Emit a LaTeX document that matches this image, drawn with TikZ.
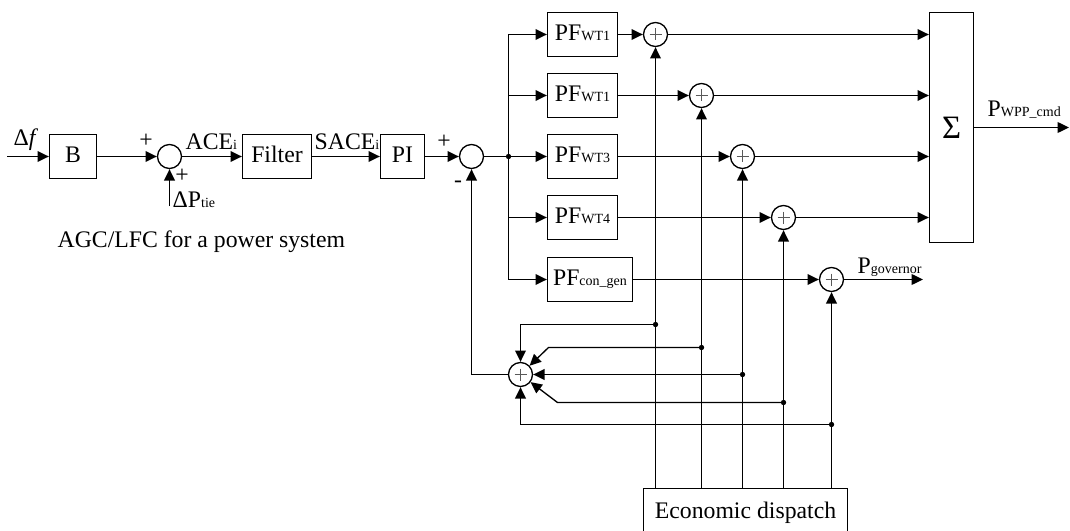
\documentclass[tikz,border=0pt]{standalone}
\usepackage{fontspec}
\setmainfont{Liberation Serif}
\usetikzlibrary{arrows.meta}
% small upright subscript set on the same baseline
\newcommand{\sbs}[1]{{\fontsize{10.5}{12}\selectfont #1}}
\begin{document}
\begin{tikzpicture}[x=0.75pt, y=-0.75pt, line width=1pt,
  >={Triangle[length=8.5pt,width=8pt]},
  font=\fontsize{17.8}{20}\selectfont,
  blk/.style={draw, inner sep=0pt, minimum height=33pt, text height=11.7pt, text depth=3pt},
  sumc/.style={draw, circle, inner sep=0pt, minimum size=18pt},
  sump/.style={sumc, path picture={
      \draw[line width=0.5pt, black!65]
        (path picture bounding box.center) ++(-6,0) -- ++(12,0)
        (path picture bounding box.center) ++(0,-6) -- ++(0,12);}},
  dotc/.style={circle, fill, inner sep=0pt, minimum size=4pt},
  lbl/.style={inner sep=0pt, anchor=base west},
  sgn/.style={inner sep=0pt}]
\useasboundingbox (0,0) rectangle (1070,531);

% ---- AGC/LFC chain ----
\coordinate (fin) at (7,156.5);
\node[blk, minimum width=35.25pt] (B) at (73,156.5) {B};
\node[sumc] (S1) at (169.5,156.5) {};
\node[blk, minimum width=51.75pt] (filt) at (277,156.5) {Filter};
\node[blk, minimum width=33pt] (PI) at (402.5,156.5) {PI};
\node[sumc] (S2) at (471.5,156.5) {};
\node[dotc] (j) at (508.5,156.5) {};
\coordinate (tie) at (169.5,206);

% ---- participation factor blocks ----
\node[blk, minimum width=52.5pt] (P1) at (582.5,34.5) {PF\sbs{WT1}};
\node[blk, minimum width=52.5pt] (P2) at (582.5,95.5) {PF\sbs{WT1}};
\node[blk, minimum width=52.5pt] (P3) at (582.5,156.5) {PF\sbs{WT3}};
\node[blk, minimum width=52.5pt] (P4) at (582.5,217.5) {PF\sbs{WT4}};
\node[blk, minimum width=63.75pt] (P5) at (590,279.5) {PF\sbs{con\_gen}};

% ---- summing junctions ----
\node[sump] (A) at (655.5,34.5) {};
\node[sump] (Bs) at (701.5,95.5) {};
\node[sump] (C) at (742.5,156.5) {};
\node[sump] (D) at (783.5,217.5) {};
\node[sump] (E) at (831.5,279.5) {};
\node[sump] (F) at (520.5,374.5) {};

% ---- wind power plant summation ----
\node[draw, inner sep=0pt, minimum width=33pt, minimum height=172.5pt,
      text height=16.2pt, text depth=0pt, font=\fontsize{24.5}{26}\selectfont] (sb) at (951.5,127.5) {Σ};
\coordinate (wout) at (1069,127.5);
\coordinate (gout) at (923,279.5);

% ---- economic dispatch ----
\node[draw, inner sep=0pt, minimum width=153pt, minimum height=33.75pt,
      text height=11.7pt, text depth=0pt] (ed) at (745.5,511) {Economic dispatch};

% ---- main chain connectors ----
\draw[->] (fin) -- (B.west);
\draw[->] (B.east) -- (S1.west);
\draw[->] (S1.east) -- (filt.west);
\draw[->] (filt.east) -- (PI.west);
\draw[->] (PI.east) -- (S2.west);
\draw (S2.east) -- (j.center);
\draw[->] (tie) -- (S1.south);

% ---- distribution bus ----
\draw (j |- P1) -- (j |- P5);
\foreach \p in {P1,P2,P3,P4,P5}
  \draw[->] (j |- \p) -- (\p.west);

% ---- block to junction ----
\draw[->] (P1.east) -- (A.west);
\draw[->] (P2.east) -- (Bs.west);
\draw[->] (P3.east) -- (C.west);
\draw[->] (P4.east) -- (D.west);
\draw[->] (P5.east) -- (E.west);

% ---- junction to summation ----
\draw[->] (A.east) -- (A -| sb.west);
\draw[->] (Bs.east) -- (Bs -| sb.west);
\draw[->] (C.east) -- (C -| sb.west);
\draw[->] (D.east) -- (D -| sb.west);
\draw[->] (sb.east) -- (wout);
\draw[->] (E.east) -- (gout);

% ---- dispatch signals ----
\foreach \s in {A,Bs,C,D,E}
  \draw[->] (ed.north -| \s) -- (\s.south);

% ---- taps feeding the lower junction ----
\node[dotc] (tA) at (655.5,324.5) {};
\node[dotc] (tB) at (701.5,347.5) {};
\node[dotc] (tC) at (742.5,374.5) {};
\node[dotc] (tD) at (783.5,402.5) {};
\node[dotc] (tE) at (831.5,424.5) {};
\coordinate (kB) at (548.5,347.5);
\coordinate (kD) at (557.5,402.5);
\draw[->] (tA.center) -| (F.north);
\draw[->] (tB.center) -- (kB) -- (F);
\draw[->] (tC.center) -- (F.east);
\draw[->] (tD.center) -- (kD) -- (F);
\draw[->] (tE.center) -| (F.south);
\draw[->] (F.west) -| (S2.south);

% ---- labels ----
\node[lbl] (lf) at (13,146) {Δ\textit{f}};
\node[lbl] (lace) at (185,150) {ACE\sbs{i}};
\node[lbl] (lsace) at (314,150) {SACE\sbs{i}};
\node[lbl] (ltie) at (172,207) {ΔP\sbs{tie}};
\node[lbl] (lagc) at (57,247) {AGC/LFC for a power system};
\node[lbl] (lwpp) at (987,117) {P\sbs{WPP\_cmd}};
\node[lbl] (lgov) at (857,273) {P\sbs{governor}};
\node[sgn] (pl1) at (146,141) {+};
\node[sgn] (pl2) at (182,176) {+};
\node[sgn] (pl3) at (444,142) {+};
\node[sgn] (mi) at (458,184) {-};
\end{tikzpicture}
\end{document}
